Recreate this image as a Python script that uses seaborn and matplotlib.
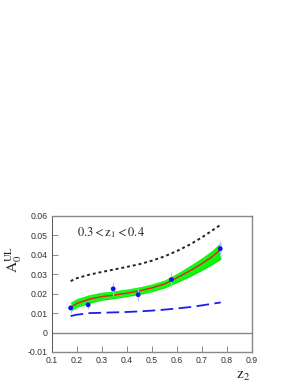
import numpy as np
import seaborn as sns
import matplotlib
matplotlib.use('Agg')
import matplotlib.pyplot as plt

# данные
z2_curve = [0.175, 0.20, 0.25, 0.30, 0.35, 0.40, 0.45, 0.50, 0.55, 0.58, 0.62, 0.66, 0.70, 0.74, 0.775]
fit_curve = [0.0130, 0.0150, 0.0172, 0.0185, 0.0193, 0.0203, 0.0215, 0.0230, 0.0250, 0.0269, 0.0296, 0.0324, 0.0355, 0.0390, 0.0428]
band_low = [0.0111, 0.0130, 0.0151, 0.0166, 0.0175, 0.0185, 0.0196, 0.0210, 0.0229, 0.0246, 0.0269, 0.0293, 0.0320, 0.0349, 0.0377]
band_high = [0.0157, 0.0175, 0.0195, 0.0208, 0.0215, 0.0224, 0.0235, 0.0250, 0.0270, 0.0290, 0.0320, 0.0352, 0.0385, 0.0423, 0.0464]

z2_model = [0.175, 0.20, 0.25, 0.30, 0.35, 0.40, 0.45, 0.50, 0.55, 0.60, 0.65, 0.70, 0.775]
upper_model = [0.0265, 0.0280, 0.0298, 0.0312, 0.0325, 0.0338, 0.0352, 0.0370, 0.0392, 0.0420, 0.0452, 0.0490, 0.0555]
lower_model = [0.0085, 0.0092, 0.0100, 0.0102, 0.0104, 0.0106, 0.0109, 0.0113, 0.0118, 0.0124, 0.0131, 0.0140, 0.0155]

z2_data = [0.175, 0.245, 0.345, 0.445, 0.578, 0.773]
a_data = [0.0127, 0.0143, 0.0225, 0.0195, 0.0273, 0.0432]
a_err = [0.0025, 0.0020, 0.0035, 0.0030, 0.0040, 0.0040]

sns.set_theme(style='white')
plt.rcParams['font.family'] = ['Liberation Sans', 'DejaVu Sans']
plt.rcParams['mathtext.fontset'] = 'stix'

fig = plt.figure(figsize=(3.0, 3.88), dpi=100)
ax = fig.add_axes([0.173, 0.0928, 0.667, 0.3505])

# зелёная полоса реплик
ax.fill_between(z2_curve, band_low, band_high, color='#00ee00', lw=0, zorder=2)
for lo, hi in [(band_low, fit_curve), (fit_curve, band_high)]:
    for t in [0.25, 0.5, 0.75]:
        ys = [a + t * (b - a) for a, b in zip(lo, hi)]
        ax.plot(z2_curve, ys, color='#3cff3c', lw=0.35, zorder=2)
sns.lineplot(x=z2_curve, y=fit_curve, color='#e8231a', lw=1.0, ax=ax, zorder=3)

sns.lineplot(x=z2_model, y=upper_model, color='#222222', lw=1.4, ax=ax, zorder=3)
ax.lines[-1].set_linestyle((0, (1.5, 1.5)))
sns.lineplot(x=z2_model, y=lower_model, color='#1c1cf0', lw=1.3, ax=ax, zorder=3)
ax.lines[-1].set_linestyle((0, (7, 3)))

ax.errorbar(z2_data, a_data, yerr=a_err, fmt='none', ecolor='#b8c4f4', elinewidth=0.8, zorder=4)
sns.scatterplot(x=z2_data, y=a_data, color='#0a14f0', s=12, edgecolor='none', ax=ax, zorder=5)

ax.axhline(0, color='#888888', lw=1.0, zorder=1)

ax.set_xlim(0.1, 0.9)
ax.set_ylim(-0.01, 0.06)
ax.set_xticks(np.arange(0.1, 0.91, 0.1))
ax.set_yticks(np.arange(-0.01, 0.061, 0.01))
ax.set_xticklabels(['0.1', '0.2', '0.3', '0.4', '0.5', '0.6', '0.7', '0.8', '0.9'])
ax.set_yticklabels(['-0.01', '0', '0.01', '0.02', '0.03', '0.04', '0.05', '0.06'])
ax.tick_params(direction='in', length=4, width=0.6, color='#777777', labelsize=6.3,
               labelcolor='#333333', pad=3, bottom=True, left=True)
for side, sp in ax.spines.items():
    sp.set_color('#888888')
    sp.set_linewidth(1.0)
ax.spines['left'].set_color('#555555')
ax.spines['left'].set_linewidth(0.7)

ax.text(0.2, 0.0495, r'$0.3 < \mathrm{z}_1 < 0.4$', fontsize=9, color='#222222')
fig.text(0.045, 0.332, r'$\mathrm{A}_0^{\mathrm{UL}}$', fontsize=11, rotation=90,
         ha='center', va='center', color='#222222')
fig.text(0.81, 0.03, r'$\mathrm{z}_2$', fontsize=11, ha='center', va='center', color='#222222')

fig.savefig('out.png', dpi=100)
